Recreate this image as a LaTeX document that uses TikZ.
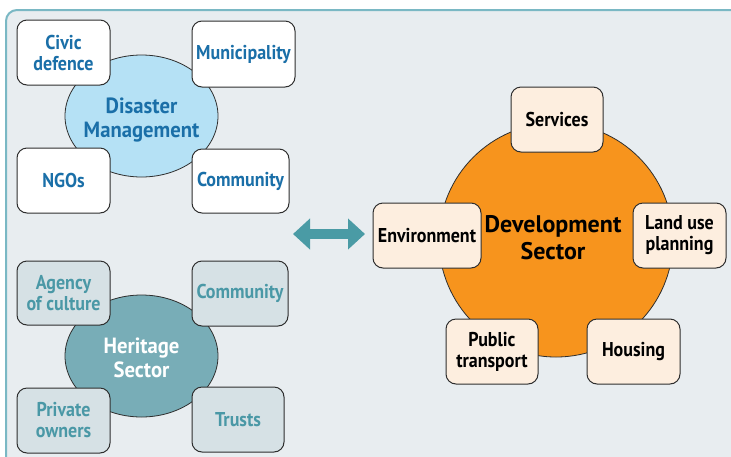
\documentclass[tikz,border=0pt]{standalone}
\usepackage{fontspec}
\setmainfont{PT Sans}
\newfontfamily\condfont[FakeStretch=0.9]{PT Sans}
\newfontfamily\hubfont[FakeStretch=0.94]{PT Sans}
\usetikzlibrary{arrows.meta}
\definecolor{bgc}{HTML}{E8EDF0}
\definecolor{framec}{HTML}{7AB8C4}
\definecolor{dmfill}{HTML}{B5E1F5}
\definecolor{dmtext}{HTML}{1A6FA8}
\definecolor{hsfill}{HTML}{78ADB7}
\definecolor{hbfill}{HTML}{D6E1E5}
\definecolor{hbtext}{HTML}{4A98A6}
\definecolor{dsfill}{HTML}{F7941D}
\definecolor{dbfill}{HTML}{FDEEDF}
\definecolor{edgec}{HTML}{2E2E2E}
\definecolor{arrowc}{HTML}{4A9BA5}
\tikzset{
  box/.style={draw=edgec, line width=1pt, rounded corners=10pt, align=center, inner sep=0pt, font=\condfont\bfseries\fontsize{20}{21}\selectfont},
  dmbox/.style={box, fill=white, text=dmtext},
  hbox/.style={box, fill=hbfill, text=hbtext},
  dbox/.style={box, fill=dbfill, text=black},
  hubtext/.style={align=center, font=\hubfont\bfseries\fontsize{22}{24}\selectfont},
  hubshape/.style={draw=edgec, line width=0.8pt},
}
\begin{document}
\begin{tikzpicture}[x=1pt, y=-1pt]
\useasboundingbox (0,0) rectangle (731,456);
\begin{scope}
\clip (0,0) rectangle (731,456);
\draw[framec, line width=2pt, fill=bgc, rounded corners=11pt] (6,470) -- (6,10) -- (745,10) -- (745,470) -- cycle;
\end{scope}
% Disaster Management
\draw[hubshape, fill=dmfill] (141.5,116) ellipse [x radius=76.5pt, y radius=61pt];
\node[hubtext, text=dmtext] (dm) at (141.5,120) {Disaster\\Management};
\node[dmbox, minimum width=93pt, minimum height=65pt] (civic) at (63.5,52.5) {Civic\\defence};
\node[dmbox, minimum width=103pt, minimum height=66pt] (muni) at (243.5,54) {Municipality};
\node[dmbox, minimum width=93pt, minimum height=65pt] (ngos) at (63.5,180.5) {NGOs};
\node[dmbox, minimum width=97pt, minimum height=64pt] (comm) at (240.5,181) {Community};
% Heritage
\draw[hubshape, fill=hsfill] (141.5,356) ellipse [x radius=76.5pt, y radius=61pt];
\node[hubtext, text=white] (hs) at (141.5,358) {Heritage\\Sector};
\node[hbox, minimum width=93pt, minimum height=64pt] (agency) at (63.5,293) {Agency\\of culture};
\node[hbox, minimum width=96pt, minimum height=65pt] (hcomm) at (240,293.5) {Community};
\node[hbox, minimum width=93pt, minimum height=65pt] (private) at (63.5,420.5) {Private\\owners};
\node[hbox, minimum width=92pt, minimum height=65pt] (trusts) at (238,419.5) {Trusts};
% Development
\draw[hubshape, fill=dsfill] (556,240) circle [radius=117pt];
\node[align=center, text=black, font=\bfseries\fontsize{24}{27}\selectfont] (ds) at (553,238) {Development\\Sector};
\node[dbox, minimum width=92pt, minimum height=65pt] (services) at (557,119.5) {Services};
\node[dbox, minimum width=108pt, minimum height=65pt] (env) at (427,235.5) {Environment};
\node[dbox, minimum width=93pt, minimum height=65pt] (land) at (679.5,235.5) {Land use\\planning};
\node[dbox, minimum width=92pt, minimum height=65pt] (public) at (492,351.5) {Public\\transport};
\node[dbox, minimum width=93pt, minimum height=65pt] (housing) at (633.5,351.5) {Housing};
% arrow
\coordinate (aL) at (293,234);
\coordinate (aR) at (365,234);
\draw[arrowc, line width=10pt, {Triangle[length=17pt,width=30pt]}-{Triangle[length=17pt,width=30pt]}] (aL) -- (aR);
\end{tikzpicture}
\end{document}
